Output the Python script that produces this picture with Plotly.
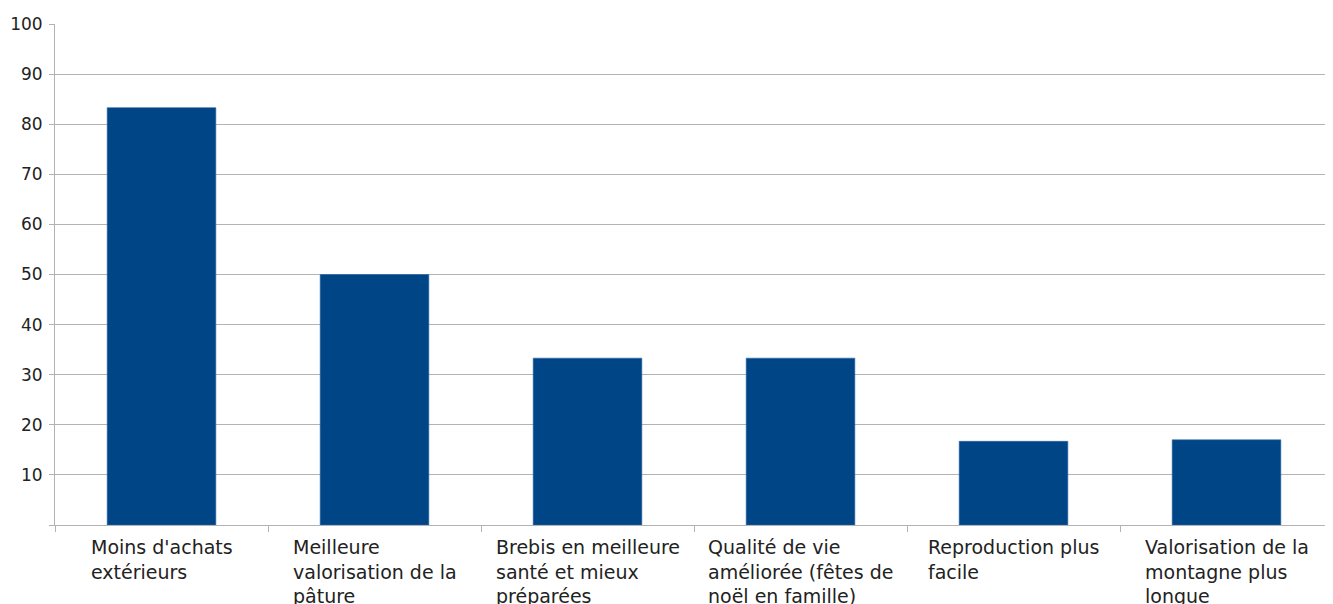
import plotly.graph_objects as go

categories = [
    "Moins d'achats extérieurs",
    "Meilleure valorisation de la pâture",
    "Brebis en meilleure santé et mieux préparées",
    "Qualité de vie améliorée (fêtes de noël en famille)",
    "Reproduction plus facile",
    "Valorisation de la montagne plus longue",
]
wrapped_labels = [
    "Moins d'achats<br>extérieurs",
    "Meilleure<br>valorisation de la<br>pâture",
    "Brebis en meilleure<br>santé et mieux<br>préparées",
    "Qualité de vie<br>améliorée (fêtes de<br>noël en famille)",
    "Reproduction plus<br>facile",
    "Valorisation de la<br>montagne plus<br>longue",
]
values = [83.3, 50.0, 33.3, 33.3, 16.7, 17.0]
y_tickvals = [0, 10, 20, 30, 40, 50, 60, 70, 80, 90, 100]
y_ticktext = ["", "10", "20", "30", "40", "50", "60", "70", "80", "90", "100"]

FONT = "DejaVu Sans, Liberation Sans, Arial, sans-serif"
GRID = "#b3b3b3"

fig = go.Figure(
    go.Bar(
        x=categories,
        y=values,
        marker=dict(color="#004586", line=dict(color="#2a64a8", width=0.6)),
        width=0.51,
        hoverinfo="x+y",
    )
)

annotations = []
for cat, lab in zip(categories, wrapped_labels):
    annotations.append(
        dict(
            x=cat, xref="x", y=0, yref="paper",
            text=lab, showarrow=False,
            xanchor="center", yanchor="top", align="left",
            yshift=-9,
            font=dict(family=FONT, size=19, color="#222222"),
        )
    )

fig.update_layout(
    width=1325, height=596,
    margin=dict(l=47, r=0, t=16, b=79),
    paper_bgcolor="white", plot_bgcolor="white",
    showlegend=False,
    annotations=annotations,
    xaxis=dict(
        type="category",
        categoryorder="array", categoryarray=categories,
        showticklabels=False,
        showline=True, linecolor=GRID, linewidth=1,
        ticks="outside", tickson="boundaries", ticklen=6, tickcolor=GRID,
        showgrid=False, zeroline=False,
        range=[-0.5, 5.5],
    ),
    yaxis=dict(
        range=[0, 100],
        tickvals=y_tickvals, ticktext=y_ticktext,
        showgrid=True, gridcolor=GRID, gridwidth=1,
        showline=True, linecolor=GRID, linewidth=1,
        ticks="outside", ticklen=5, tickcolor=GRID,
        ticklabelstandoff=3,
        zeroline=False,
        tickfont=dict(family=FONT, size=17, color="#222222"),
    ),
)

fig.write_html("out.html")
